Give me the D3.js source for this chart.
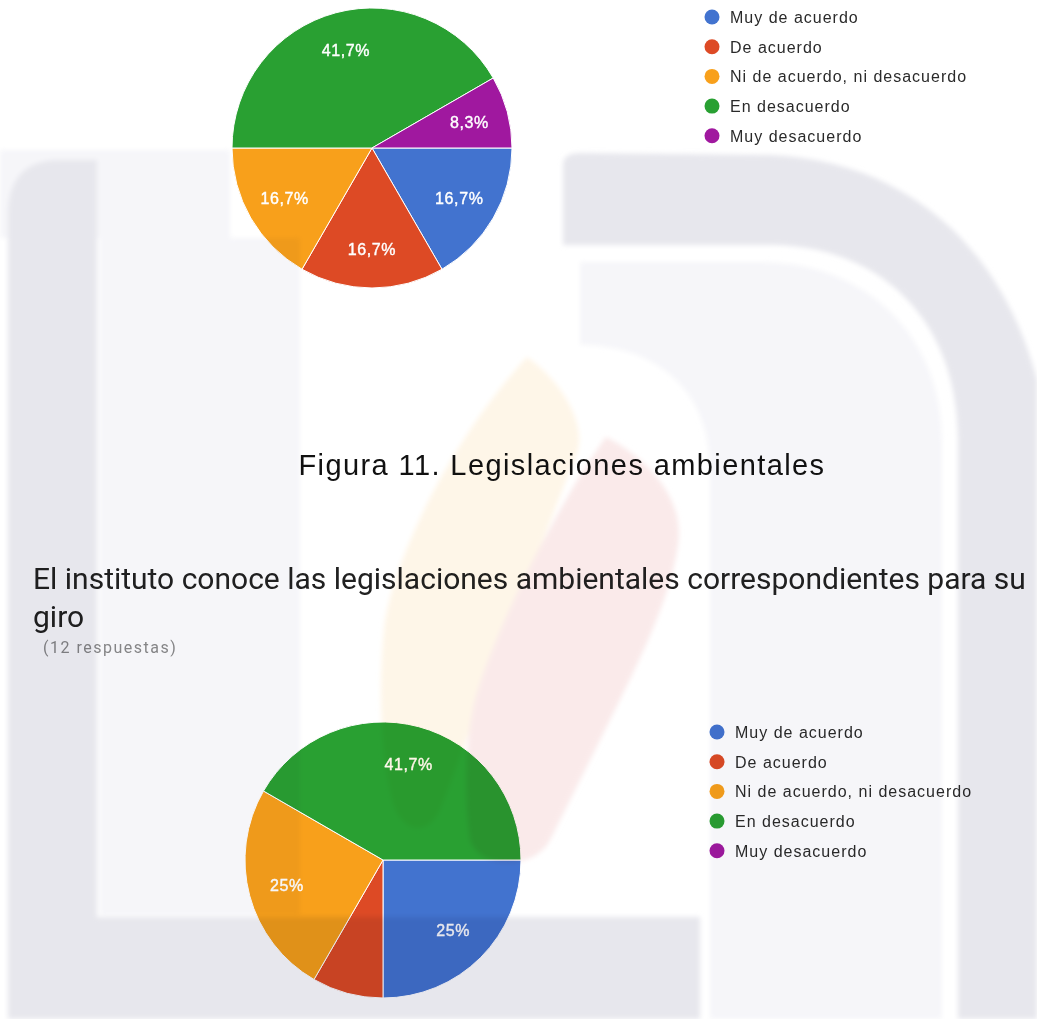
<!DOCTYPE html>
<html>
<head>
<meta charset="utf-8">
<script src="https://cdn.jsdelivr.net/npm/d3@7"></script>
<style>
  body { margin: 0; background: #fff; }
  svg { display: block; }
  .wm { mix-blend-mode: multiply; pointer-events: none; }
</style>
</head>
<body>
<div id="chart"></div>
<script>
var width = 1037;
var height = 1019;

// survey answers, same order for both charts
var categories = ["Muy de acuerdo", "De acuerdo", "Ni de acuerdo, ni desacuerdo", "En desacuerdo", "Muy desacuerdo"];
// counts out of 12 answers
var countsFig10 = [2, 2, 2, 5, 1];
var countsFig11 = [3, 1, 3, 5, 0];
var hiddenLabelsFig11 = ["De acuerdo"];   // google did not print this one

var caption = "Figura 11. Legislaciones ambientales";
var questionLines = ["El instituto conoce las legislaciones ambientales correspondientes para su", "giro"];
var responsesText = "(12 respuestas)";

var color = d3.scaleOrdinal()
    .domain(categories)
    .range(["#4273cf", "#dd4a25", "#f8a01b", "#29a032", "#a0189f"]);

var svg = d3.select("#chart").append("svg")
    .attr("width", width)
    .attr("height", height);

var defs = svg.append("defs");
defs.append("filter").attr("id", "soft")
    .attr("x", "-5%").attr("y", "-5%").attr("width", "110%").attr("height", "110%")
    .append("feGaussianBlur").attr("stdDeviation", 2.5);

function pctText(v, total) {
    var s = d3.format(".1f")(v / total * 100);
    return s.replace(/\.0$/, "").replace(".", ",") + "%";
}

function drawPie(cx, cy, r, counts, hidden) {
    var total = d3.sum(counts);
    var rows = categories.map(function (c, i) { return {name: c, value: counts[i]}; });
    var pie = d3.pie().sort(null).value(d => d.value)
        .startAngle(Math.PI / 2).endAngle(Math.PI / 2 + 2 * Math.PI);
    var arcs = pie(rows).filter(d => d.value > 0);
    var arc = d3.arc().innerRadius(0).outerRadius(r);
    var labelArc = d3.arc().innerRadius(r * 0.72).outerRadius(r * 0.72);

    var g = svg.append("g").attr("transform", "translate(" + cx + "," + cy + ")");
    g.selectAll("path").data(arcs).enter().append("path")
        .attr("d", arc)
        .attr("fill", d => color(d.data.name))
        .attr("stroke", "#fff")
        .attr("stroke-width", 1);

    g.selectAll("text").data(arcs.filter(d => hidden.indexOf(d.data.name) < 0)).enter().append("text")
        .attr("transform", d => "translate(" + labelArc.centroid(d) + ")")
        .attr("text-anchor", "middle")
        .attr("dy", "0.36em")
        .style("font-family", "Arial, 'Liberation Sans', sans-serif")
        .style("font-size", "16px")
        .style("letter-spacing", "0.6px")
        .attr("fill", "#fff")
        .attr("stroke", "#fff")
        .attr("stroke-width", 0.4)
        .text(d => pctText(d.value, total));
}

function drawLegend(x, y) {
    var step = 29.7;
    var g = svg.append("g").attr("transform", "translate(" + x + "," + y + ")");
    var item = g.selectAll("g").data(categories).enter().append("g")
        .attr("transform", (d, i) => "translate(0," + (i * step) + ")");
    item.append("circle").attr("r", 7.5).attr("fill", d => color(d));
    item.append("text")
        .attr("x", 18)
        .attr("y", 6)
        .style("font-family", "Arial, 'Liberation Sans', sans-serif")
        .style("font-size", "16px")
        .style("letter-spacing", "1px")
        .attr("fill", "#2a2a2a")
        .text(d => d);
}

drawPie(372, 148, 140, countsFig10, []);
drawLegend(712, 17);

svg.append("text")
    .attr("x", 562).attr("y", 475)
    .attr("text-anchor", "middle")
    .style("font-family", "Arial, 'Liberation Sans', sans-serif")
    .style("font-size", "29px")
    .style("letter-spacing", "1.4px")
    .attr("fill", "#111")
    .text(caption);

svg.selectAll(".qline").data(questionLines).enter().append("text")
    .attr("class", "qline")
    .attr("x", 33)
    .attr("y", (d, i) => 589 + i * 38)
    .style("font-family", "Roboto, sans-serif")
    .style("font-size", "30px")
    .attr("fill", "#212121")
    .text(d => d);

svg.append("text")
    .attr("x", 43).attr("y", 653)
    .style("font-family", "Roboto, sans-serif")
    .style("font-size", "16px")
    .style("letter-spacing", "1.5px")
    .attr("fill", "#8a8a8a")
    .text(responsesText);

drawPie(383, 860, 138, countsFig11, hiddenLabelsFig11);
drawLegend(717, 732);

// faint thesis watermark, multiplied over everything
var wm = svg.append("g").attr("class", "wm").attr("filter", "url(#soft)");
var grey = "#e7e7ed", lightGrey = "#f6f6f9";
wm.append("rect").attr("x", 0).attr("y", 150).attr("width", 230).attr("height", 88).attr("fill", lightGrey);
wm.append("rect").attr("x", 100).attr("y", 238).attr("width", 200).attr("height", 677).attr("fill", lightGrey);
wm.append("path").attr("fill", grey)
    .attr("d", "M8,1019 L8,215 Q8,160 60,160 L97,160 L97,917 L700,917 L700,1019 Z");
wm.append("path").attr("fill", grey)
    .attr("d", "M563,245 L563,165 Q563,153 580,153 L770,155 C900,160 1000,240 1037,380 L1037,1019 L958,1019 L958,440 C958,320 880,245 770,245 Z");
wm.append("path").attr("fill", lightGrey)
    .attr("d", "M580,262 L760,262 C870,262 942,340 942,440 L942,1019 L710,1019 L710,470 C710,385 650,345 580,345 Z");
wm.append("path").attr("fill", "#fef6e8")
    .attr("d", "M527,357 C560,380 585,420 578,450 L500,650 C480,700 460,760 440,810 C425,840 400,830 392,800 C380,750 378,680 385,620 C400,540 460,430 527,357 Z");
wm.append("path").attr("fill", "#faeaea")
    .attr("d", "M606,437 C650,460 685,500 678,545 C670,600 640,660 600,740 L550,840 C535,870 480,870 470,840 C462,780 468,720 478,690 C500,620 560,500 606,437 Z");
</script>
</body>
</html>
